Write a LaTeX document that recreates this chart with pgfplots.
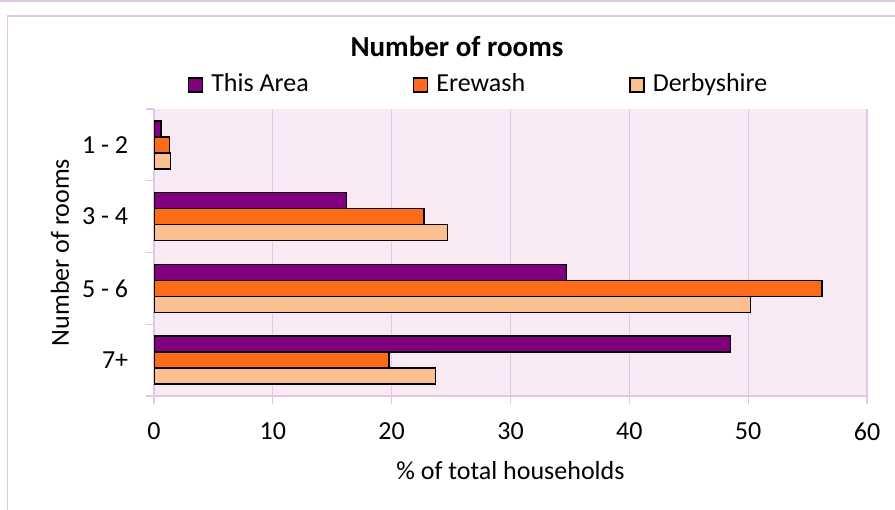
\documentclass[border=0pt]{standalone}
\usepackage{pgfplots}
\pgfplotsset{compat=1.18}
\usepackage{fontspec}
\setmainfont{Carlito}

\definecolor{areapurple}{HTML}{800080}
\definecolor{erewash}{HTML}{FC6B19}
\definecolor{derby}{HTML}{FAC090}
\definecolor{plotbg}{HTML}{F7EAF5}
\definecolor{gridcol}{HTML}{E2C6E2}

\begin{document}
\fontsize{26bp}{31bp}\selectfont
\begin{tikzpicture}
\path[use as bounding box] (0bp,0bp) rectangle (895bp,510bp);
% chart frame
\draw[gridcol, line width=1.5bp] (0bp,509bp) -- (895bp,509bp);
\draw[gridcol, line width=1.5bp] (895bp,494bp) -- (7.5bp,494bp) -- (7.5bp,0bp);
\node[font=\fontsize{29bp}{34bp}\selectfont\bfseries] at (457bp,464bp) {Number of rooms};

\begin{axis}[
    at={(154bp,114bp)}, anchor=south west,
    scale only axis, width=713bp, height=287bp,
    xbar, bar width=16bp,
    axis background/.style={fill=plotbg},
    xmin=0, xmax=60, xtick={0,10,...,60},
    ymin=-0.5, ymax=3.5,
    ytick={-0.5,0.5,1.5,2.5,3.5}, yticklabels={},
    extra y ticks={0,1,2,3},
    extra y tick labels={7+,5 - 6,3 - 4,1 - 2},
    extra y tick style={major tick length=0pt, ymajorgrids=false,
        yticklabel style={xshift=-17bp}},
    xticklabel style={yshift=-10bp},
    axis x line=bottom, axis y line=left,
    axis line style={draw=gridcol, line width=1.2bp, -},
    tick align=outside, major tick length=8bp,
    tick style={draw=gridcol, line width=1.2bp},
    xmajorgrids, grid style={draw=gridcol, line width=1.2bp},
    /pgf/number format/assume math mode=true,
    xlabel={\% of total households},
    ylabel={Number of rooms},
    every axis x label/.style={at={(axis description cs:0.5,-0.261)}, anchor=center},
    every axis y label/.style={at={(axis description cs:-0.132,0.5)}, anchor=center, rotate=90},
    legend columns=3,
    legend style={at={(axis description cs:0.047,1.084)}, anchor=west,
        draw=none, fill=none, inner sep=0pt,
        nodes={inner sep=8bp},
        /tikz/every even column/.append style={column sep=96bp}},
]
\addplot[fill=areapurple, draw=black, line width=1.6bp, bar shift=16bp,
    legend image code/.code={\draw[fill=areapurple, draw=black, line width=1.6bp] (0bp,-7bp) rectangle (14bp,7bp);}]
    coordinates {(0.6,3) (16.2,2) (34.7,1) (48.5,0)};
\addplot[fill=erewash, draw=black, line width=1.6bp, bar shift=0bp,
    legend image code/.code={\draw[fill=erewash, draw=black, line width=1.6bp] (0bp,-7bp) rectangle (14bp,7bp);}]
    coordinates {(1.3,3) (22.7,2) (56.2,1) (19.8,0)};
\addplot[fill=derby, draw=black, line width=1.6bp, bar shift=-16bp,
    legend image code/.code={\draw[fill=derby, draw=black, line width=1.6bp] (0bp,-7bp) rectangle (14bp,7bp);}]
    coordinates {(1.4,3) (24.7,2) (50.2,1) (23.7,0)};
\legend{This Area, Erewash, Derbyshire}
\end{axis}
\end{tikzpicture}
\end{document}
